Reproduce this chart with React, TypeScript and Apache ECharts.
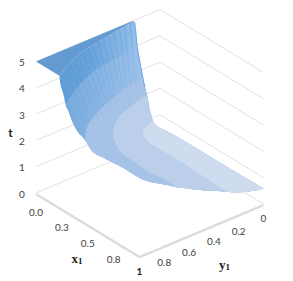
import React, { useEffect, useRef } from "react";
import * as echarts from "echarts";

type P = number[];

// Axis values
const tTicks = [0, 1, 2, 3, 4, 5];
const x1Ticks = [0, 0.25, 0.5, 0.75];
const x1TickLabels = ["0.0", "0.3", "0.5", "0.8"];
const y1Ticks = [0, 0.2, 0.4, 0.6, 0.8];
const y1TickLabels = ["0", "0.2", "0.4", "0.6", "0.8"];

// Surface contours: [x1, y1, t], from the y1 = 1 / x1 = 1 side to the back fold
const contour5: P[] = [[0.226, 1, 5], [0.17, 0.894, 5], [0.094, 0.723, 5], [0.065, 0.565, 5], [0.036, 0.409, 5], [0.013, 0.253, 5], [0.02, 0.22, 5]];
const contour4: P[] = [[0.29, 1, 4], [0.264, 0.973, 4], [0.162, 0.807, 4], [0.076, 0.604, 4], [0.042, 0.414, 4], [0.026, 0.203, 4]];
const contour3: P[] = [[0.437, 0.969, 3], [0.322, 0.858, 3], [0.232, 0.704, 3], [0.152, 0.506, 3], [0.088, 0.315, 3], [0.082, 0.206, 3]];
const contour2: P[] = [[0.986, 0.702, 2], [0.85, 0.693, 2], [0.756, 0.711, 2], [0.515, 0.696, 2], [0.417, 0.679, 2], [0.326, 0.635, 2], [0.234, 0.574, 2], [0.113, 0.433, 2], [0.039, 0.234, 2], [0.011, 0.114, 2]];
const contour1: P[] = [[0.991, 0.286, 1], [0.545, 0.269, 1], [0.418, 0.268, 1], [0.257, 0.271, 1], [0.16, 0.254, 1], [0.096, 0.217, 1], [0.066, 0.176, 1], [0.032, 0.083, 1]];

// Surface rim, sections in order round the sheet
const rimA: P[] = [[0.226, 1, 5], [0.237, 1, 4.67], [0.261, 1, 4.43], [0.29, 1, 4]];
const rimB: P[] = [[0.309, 1, 3.9], [0.357, 1, 3.52], [0.406, 1, 3.29], [0.437, 0.969, 3]];
const rimC: P[] = [[0.551, 1, 2.88], [0.667, 1, 2.91], [0.841, 1, 2.97], [1, 1, 2.97], [1, 0.915, 2.65], [1, 0.781, 2.27], [0.986, 0.702, 2]];
const rimD: P[] = [[1, 0.649, 1.89], [1, 0.512, 1.54], [1, 0.375, 1.24], [0.991, 0.286, 1]];
const rimE1: P[] = [[1, 0.165, 0.78], [1, 0.069, 0.65], [1, 0, 0.59]];
const rimE2: P[] = [[0.551, 0, 0.56], [0.222, 0, 0.56], [0.097, 0, 0.54], [0.061, 0.019, 0.6], [0.033, 0.044, 0.7], [0.025, 0.057, 0.8], [0.032, 0.083, 1]];
const rimF: P[] = [[0.021, 0.094, 1.3], [0.023, 0.108, 1.6], [0.011, 0.114, 2]];
const rimG: P[] = [[0.076, 0.185, 2.6], [0.082, 0.206, 3]];
const rimH: P[] = [[0.069, 0.219, 3.6], [0.026, 0.203, 4]];
const rimI: P[] = [[0.028, 0.217, 4.6], [0.02, 0.22, 5]];
const plateauBack: P[] = [[0, 0.22, 5], [0, 1, 5]];

// Mesh ribs at fixed y1: [y1, x1 at top, t at top, x1 mid, t mid, x1 low, t low]
const ribs: P[] = [
  [0.25, 0.013, 5, 0.045, 3.5, 0.08, 2.2],
  [0.3, 0.02, 5, 0.06, 3.5, 0.1, 2.2],
  [0.35, 0.028, 5, 0.08, 3.5, 0.13, 2.2],
  [0.4, 0.035, 5, 0.1, 3.5, 0.16, 2.3],
  [0.45, 0.043, 5, 0.13, 3.5, 0.2, 2.3],
  [0.5, 0.052, 5, 0.15, 3.5, 0.24, 2.4],
  [0.55, 0.06, 5, 0.18, 3.5, 0.28, 2.5],
  [0.6, 0.07, 5, 0.21, 3.5, 0.32, 2.6],
  [0.65, 0.08, 5, 0.25, 3.5, 0.36, 2.7],
  [0.7, 0.09, 5, 0.28, 3.5, 0.4, 2.8],
  [0.75, 0.108, 5, 0.31, 3.5, 0.43, 2.85],
  [0.8, 0.13, 5, 0.33, 3.5, 0.44, 2.9],
  [0.85, 0.15, 5, 0.33, 3.5, 0.44, 2.95],
  [0.9, 0.175, 5, 0.33, 3.5, 0.44, 3],
];

// Projection of the 3D box on the page
const BACK = [160, 141];
const X1_VEC = [103.5, 63];
const Y1_VEC = [-124, 52];
const T_UNIT = 26.3;
const project = (x1: number, y1: number, t: number): number[] => [
  BACK[0] + X1_VEC[0] * x1 + Y1_VEC[0] * y1,
  BACK[1] + X1_VEC[1] * x1 + Y1_VEC[1] * y1 - T_UNIT * t,
];

// Draws a smooth curve through projected points: one list of samples per segment.
const STEPS = 6;
const curve = (pts: P[]): number[][][] => {
  const s = pts.map((p) => project(p[0], p[1], p[2]));
  const segs: number[][][] = [];
  for (let i = 0; i < s.length - 1; i++) {
    const p0 = s[Math.max(i - 1, 0)];
    const p1 = s[i];
    const p2 = s[i + 1];
    const p3 = s[Math.min(i + 2, s.length - 1)];
    const seg: number[][] = [];
    for (let k = 0; k < STEPS; k++) {
      const u = k / STEPS;
      const f = (d: number) =>
        0.5 * (2 * p1[d] + (p2[d] - p0[d]) * u + (2 * p0[d] - 5 * p1[d] + 4 * p2[d] - p3[d]) * u * u + (3 * p1[d] - p0[d] - 3 * p2[d] + p3[d]) * u * u * u);
      seg.push([f(0), f(1)]);
    }
    segs.push(seg);
  }
  return segs;
};
const sample = (pts: P[]): number[][] => {
  const c = curve(pts).flat();
  const last = pts[pts.length - 1];
  c.push(project(last[0], last[1], last[2]));
  return c;
};
const rimFront = [...rimA, ...rimB, ...rimC, ...rimD, ...rimE1];
const rimBack = [rimE1[rimE1.length - 1], ...rimE2, ...rimF, ...rimG, ...rimH, ...rimI];
const frontSegs = curve(rimFront);
const backSegs = curve(rimBack);
const tip = project(1, 0, 0.59);
const iA = rimA.length - 1;
const iB = iA + rimB.length;
const iC = iB + rimC.length;
const iD = iC + rimD.length;
const jE = rimE2.length;
const jF = jE + rimF.length;
const jG = jF + rimG.length;
const jH = jG + rimH.length;
const jI = jH + rimI.length;
const region = (contour: P[], from: number, to: number): number[][] => [
  ...sample(contour).reverse(),
  ...frontSegs.slice(from).flat(),
  tip,
  ...backSegs.slice(0, to).flat(),
];

const bands: { pts: number[][]; fill: any }[] = [
  {
    pts: region(contour5, 0, jI),
    fill: new echarts.graphic.LinearGradient(0, 0, 1, 0, [
      { offset: 0, color: "#5f9dd7" },
      { offset: 0.15, color: "#68a3da" },
      { offset: 0.28, color: "#82b3e3" },
      { offset: 0.38, color: "#95c0ea" },
    ]),
  },
  {
    pts: region(contour4, iA, jH),
    fill: new echarts.graphic.LinearGradient(0, 0, 1, 0, [
      { offset: 0, color: "#78aade" },
      { offset: 0.12, color: "#84b2e1" },
      { offset: 0.4, color: "#9dc1e9" },
    ]),
  },
  { pts: region(contour3, iB, jG), fill: "#a6c2e6" },
  { pts: region(contour2, iC, jF), fill: "#bccfea" },
  { pts: region(contour1, iD, jE), fill: "#cfdcef" },
  { pts: [...sample(contour5), ...plateauBack.map((p) => project(p[0], p[1], p[2]))], fill: "#639bd1" },
];

const LABEL_FONT = "Lato";
const LABEL_COLOR = "#404040";

export default function App() {
  const ref = useRef<HTMLDivElement>(null);
  useEffect(() => {
    const chart = echarts.init(ref.current!, undefined, { renderer: "svg" });
    const axisCommon = { type: "value" as const, show: false };
    const at = (api: any, p: P) => api.coord(project(p[0], p[1], p[2]));
    const tick = (text: string, x: number, y: number, api: any, weight = "normal", color = LABEL_COLOR) => {
      const c = api.coord([x, y]);
      return {
        type: "text",
        style: { text, x: c[0], y: c[1], fill: color, fontFamily: LABEL_FONT, fontSize: 10, fontWeight: weight, align: "center", verticalAlign: "middle" },
      };
    };
    const custom = (name: string, data: number[], renderItem: any) => ({
      type: "custom" as const,
      name,
      silent: true,
      clip: false,
      coordinateSystem: "cartesian2d",
      encode: { x: 0, y: 0 },
      data,
      renderItem,
    });
    const ribStroke = new echarts.graphic.LinearGradient(0, 0, 0, 1, [
      { offset: 0, color: "rgba(70,135,205,0.45)" },
      { offset: 0.6, color: "rgba(90,150,215,0.22)" },
      { offset: 1, color: "rgba(120,170,225,0.04)" },
    ]);
    chart.setOption({
      animation: false,
      grid: { left: 0, top: 0, width: 293, height: 281 },
      xAxis: { ...axisCommon, min: 0, max: 293 },
      yAxis: { ...axisCommon, min: 0, max: 281, inverse: true },
      series: [
        custom("walls", tTicks, (p: any, api: any) => {
          const t = tTicks[p.dataIndex];
          return {
            type: "polyline",
            shape: { points: [at(api, [0, 1, t]), at(api, [0, 0, t]), at(api, [1, 0, t])] },
            style: { stroke: "#e3e3e3", lineWidth: 1, fill: "none" },
          };
        }),
        custom("base", [0], (_: any, api: any) => ({
          type: "polyline",
          shape: { points: [at(api, [0, 1, -0.04]), at(api, [1, 1, -0.04]), at(api, [1, 0, -0.04])] },
          style: { stroke: "#dcdcdc", lineWidth: 2.5, fill: "none" },
        })),
        custom("surface", bands.map((_, i) => i), (p: any, api: any) => ({
          type: "polygon",
          shape: { points: bands[p.dataIndex].pts.map((q) => api.coord(q)) },
          style: { fill: bands[p.dataIndex].fill },
        })),
        custom("ribs", ribs.map((_, i) => i), (p: any, api: any) => {
          const r = ribs[p.dataIndex];
          return {
            type: "polyline",
            shape: { points: sample([[r[1], r[0], r[2]], [r[3], r[0], r[4]], [r[5], r[0], r[6]]]).map((q) => api.coord(q)) },
            style: { stroke: ribStroke, lineWidth: 0.8, fill: "none" },
          };
        }),
        custom("fold", [0], (_: any, api: any) => ({
          type: "polyline",
          shape: { points: sample([rimI[1], rimI[0], rimH[1], rimH[0], rimG[1], rimG[0]]).map((q) => api.coord(q)) },
          style: { stroke: "rgba(91,155,213,0.75)", lineWidth: 1, fill: "none" },
        })),
        custom("tLabels", tTicks, (p: any, api: any) => {
          const t = tTicks[p.dataIndex];
          const c = project(0, 1, t);
          return tick(String(t), c[0] - 14, c[1] + 0.5, api);
        }),
        custom("x1Labels", x1Ticks, (p: any, api: any) => {
          const c = project(x1Ticks[p.dataIndex], 1, 0);
          return tick(x1TickLabels[p.dataIndex], c[0], c[1] + 18.5, api);
        }),
        custom("y1Labels", y1Ticks, (p: any, api: any) => {
          const c = project(1, y1Ticks[p.dataIndex], 0);
          return tick(y1TickLabels[p.dataIndex], c[0], c[1] + (p.dataIndex === 0 ? 14.3 : 16.5), api);
        }),
        custom("corner", [1], (_: any, api: any) => {
          const c = project(1, 1, 0);
          return tick("1", c[0], c[1] + 15, api, "bold", "#1a1a1a");
        }),
        custom("titles", [0, 1, 2], (p: any, api: any) => {
          const spec = [
            { text: "t", x: 10.5, y: 132, rich: false },
            { text: "{v|x}{s|1}", x: 77, y: 258, rich: true },
            { text: "{v|y}{s|1}", x: 224.5, y: 264, rich: true },
          ][p.dataIndex];
          const c = api.coord([spec.x, spec.y]);
          const base = { fontWeight: "bold", fill: "#1a1a1a" };
          return {
            type: "text",
            style: spec.rich
              ? {
                  text: spec.text,
                  x: c[0],
                  y: c[1],
                  align: "center",
                  verticalAlign: "middle",
                  rich: {
                    v: { ...base, fontFamily: "Liberation Serif", fontSize: 13, height: 14 },
                    s: { ...base, fontFamily: "Liberation Serif", fontSize: 9, height: 14, padding: [5, 0, 0, 0] },
                  },
                }
              : { ...base, text: spec.text, x: c[0], y: c[1], fontFamily: LABEL_FONT, fontSize: 12, align: "center", verticalAlign: "middle" },
          };
        }),
      ],
    });
    return () => chart.dispose();
  }, []);
  return <div ref={ref} style={{ position: "absolute", left: 0, top: 0, width: 293, height: 281 }} />;
}
